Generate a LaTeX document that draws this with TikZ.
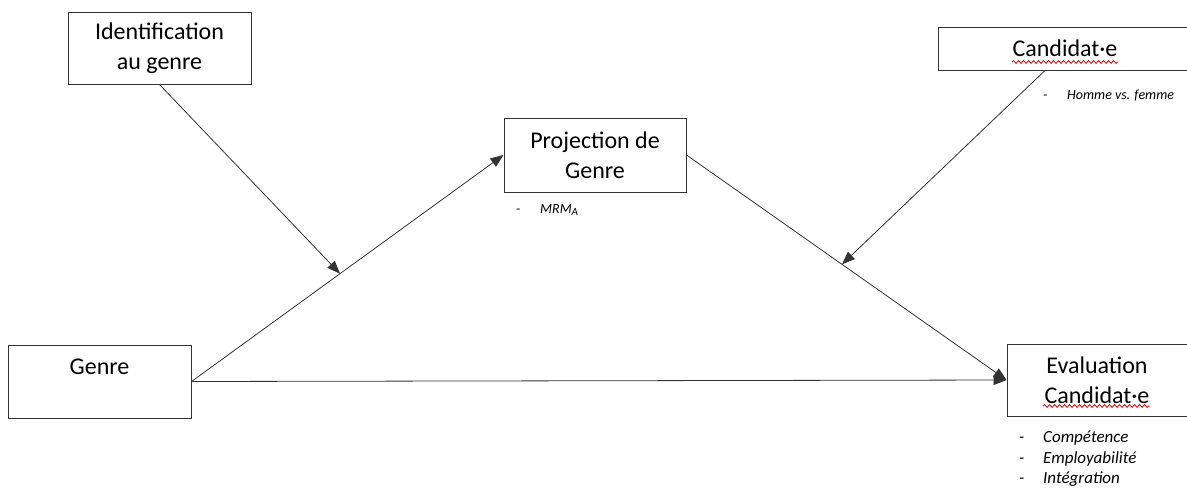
\documentclass[tikz,border=0pt]{standalone}
\usepackage{fontspec}
\setmainfont{Carlito}
\usetikzlibrary{arrows.meta,calc,decorations.pathmorphing}

\tikzset{
  box/.style={draw=black!80, line width=1pt, inner sep=0pt, align=center,
    font=\fontsize{24}{30}\selectfont},
  link/.style={draw=black!80, line width=0.8pt, -{Triangle[length=13pt,width=10pt]}},
  note/.style={inner sep=0pt, align=left, font=\fontsize{14}{17}\selectfont\itshape},
  squiggle/.style={draw=red!85!black, line width=0.8pt, decorate,
    decoration={snake, segment length=5pt, amplitude=1.4pt}},
}

\begin{document}
\begin{tikzpicture}[x=1pt,y=-1pt]
  \useasboundingbox (0,0) rectangle (1187,491);
  \clip (0,0) rectangle (1187,491);

  % boxes
  \node[box, minimum width=183pt, minimum height=72pt] (ident) at (159.5,48) {Identification\\au genre};
  \node[box, minimum width=182pt, minimum height=74pt] (proj) at (595,155) {Projection de\\Genre};
  \node[box, minimum width=254pt, minimum height=43pt] (cand) at (1065,48.5) {Candidat·e};
  \node[box, minimum width=183pt, minimum height=73pt] (genre) at (99.5,381.5) {Genre\\\mbox{}};
  \node[box, minimum width=180pt, minimum height=72pt] (eval) at (1097,380) {Evaluation\\Candidat·e};

  % spell check marks
  \draw[squiggle] ($(cand.center)+(-53,13.5)$) -- ($(cand.center)+(53,13.5)$);
  \draw[squiggle] ($(eval.center)+(-54,26)$) -- ($(eval.center)+(53,26)$);

  % notes
  \node[note, anchor=west] (mrm) at (516,210) {\makebox[24pt][l]{-}MRM\textsubscript{\fontsize{11}{12}\selectfont A}};
  \node[note, anchor=west] (sexe) at (1043,96) {\makebox[24pt][l]{-}Homme vs. femme};
  \node[note, font=\fontsize{17}{20.5}\selectfont\itshape, anchor=north west] (crit) at (1019,431)
    {\makebox[24pt][l]{-}Compétence\\\makebox[24pt][l]{-}Employabilité\\\makebox[24pt][l]{-}Intégration};

  % arrows
  \path (genre.east) -- (proj.west) coordinate[pos=0.476] (m1);
  \path (proj.east) -- (eval.west) coordinate[pos=0.486] (m2);
  \draw[link] (genre.east) -- (proj.west);
  \draw[link] (genre.east) -- (eval.west);
  \draw[link] (proj.east) -- (eval.west);
  \draw[link] (ident.south) -- (m1);
  \draw[link] ([xshift=-20pt]cand.south) -- (m2);
\end{tikzpicture}
\end{document}
